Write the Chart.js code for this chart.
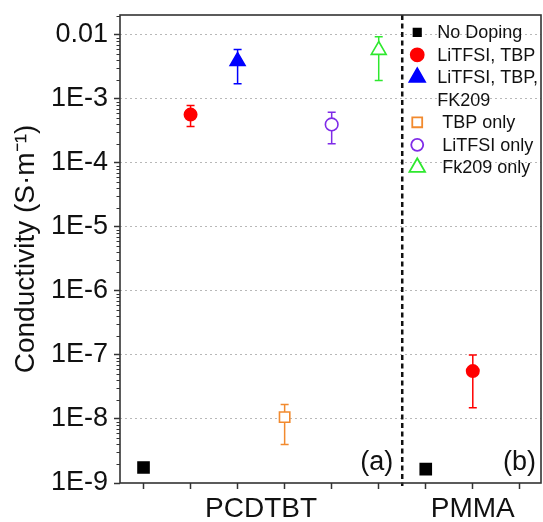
<!DOCTYPE html>
<html><head><meta charset="utf-8">
<script src="https://cdn.jsdelivr.net/npm/chart.js@4/dist/chart.umd.min.js"></script>
<style>html,body{margin:0;padding:0;background:#fff}#wrap{width:543px;height:522px}</style>
</head><body><div id="wrap"><canvas id="c" width="543" height="522"></canvas></div>
<script>
// ---- data ----
const categories = ['PCDTBT', 'PMMA'];
const categoryPositions = [2.5, 7];
const xTickPositions = [0, 1, 2, 3, 4, 5, 6, 7, 8];
const separatorPosition = 5.5;
const yTickValues = [1e-9, 1e-8, 1e-7, 1e-6, 1e-5, 1e-4, 1e-3, 1e-2];
const yTickLabels = ['1E-9', '1E-8', '1E-7', '1E-6', '1E-5', '1E-4', '1E-3', '0.01'];
const panelLabels = ['(a)', '(b)'];
const seriesNames = ['No Doping', 'LiTFSI, TBP', 'LiTFSI, TBP,\nFK209', ' TBP only', ' LiTFSI only', ' Fk209 only'];

const noDopingX = [0, 6];
const noDopingY = [1.75e-9, 1.65e-9];

const litfsiTbpX = [1, 7];
const litfsiTbpY = [5.7e-4, 5.6e-8];
const litfsiTbpLow = [3.7e-4, 1.5e-8];
const litfsiTbpHigh = [7.9e-4, 1.0e-7];

const litfsiTbpFkX = [2];
const litfsiTbpFkY = [3.9e-3];
const litfsiTbpFkLow = [1.73e-3];
const litfsiTbpFkHigh = [5.9e-3];

const tbpOnlyX = [3];
const tbpOnlyY = [1.07e-8];
const tbpOnlyLow = [4.0e-9];
const tbpOnlyHigh = [1.68e-8];

const litfsiOnlyX = [4];
const litfsiOnlyY = [4.0e-4];
const litfsiOnlyLow = [2.0e-4];
const litfsiOnlyHigh = [6.2e-4];

const fkOnlyX = [5];
const fkOnlyY = [5.8e-3];
const fkOnlyLow = [1.95e-3];
const fkOnlyHigh = [9.4e-3];

// ---- build ----
const pts = (xs, ys) => xs.map((x, i) => ({x: x, y: ys[i]}));
const FONT = '"Liberation Sans", Arial, sans-serif';

function mk(label, xs, ys, lo, hi, style, radius, color, fill, legendRadius) {
  return {
    label, data: pts(xs, ys), errLow: lo, errHigh: hi,
    pointStyle: style, pointRadius: radius, pointHoverRadius: radius,
    borderColor: color, backgroundColor: fill, pointBorderWidth: 1.6,
    borderWidth: 1.6, showLine: false, legendRadius: legendRadius || radius
  };
}

const datasets = [
  mk(seriesNames[0], noDopingX, noDopingY, null, null, 'rect', 7.8, '#000000', '#000000', 5.2),
  mk(seriesNames[1], litfsiTbpX, litfsiTbpY, litfsiTbpLow, litfsiTbpHigh, 'circle', 6.2, '#ff0000', '#ff0000', 6.5),
  mk(seriesNames[2], litfsiTbpFkX, litfsiTbpFkY, litfsiTbpFkLow, litfsiTbpFkHigh, 'triangle', 8.6, '#0000ff', '#0000ff', 9),
  mk(seriesNames[3], tbpOnlyX, tbpOnlyY, tbpOnlyLow, tbpOnlyHigh, 'rect', 7.3, '#f28a2e', '#ffffff', 7),
  mk(seriesNames[4], litfsiOnlyX, litfsiOnlyY, litfsiOnlyLow, litfsiOnlyHigh, 'circle', 6.3, '#7f2be8', '#ffffff', 6),
  mk(seriesNames[5], fkOnlyX, fkOnlyY, fkOnlyLow, fkOnlyHigh, 'triangle', 8.6, '#2ee82e', '#ffffff', 9)
];

function marker(ctx, style, r, x, y, stroke, fill, lw) {
  ctx.save();
  ctx.lineWidth = lw; ctx.strokeStyle = stroke; ctx.fillStyle = fill;
  ctx.beginPath();
  if (style === 'rect') {
    const s = Math.SQRT1_2 * r;
    ctx.rect(x - s, y - s, 2 * s, 2 * s);
  } else if (style === 'circle') {
    ctx.arc(x, y, r, 0, Math.PI * 2);
  } else {
    for (let k = 0; k < 3; k++) {
      const a = k * 2 * Math.PI / 3;
      const px = x + Math.sin(a) * r, py = y - Math.cos(a) * r;
      if (k === 0) ctx.moveTo(px, py); else ctx.lineTo(px, py);
    }
    ctx.closePath();
  }
  ctx.fill(); ctx.stroke();
  ctx.restore();
}

const zeroPad = s => { s.paddingLeft = 0; s.paddingRight = 0; s.paddingTop = 0; s.paddingBottom = 0; };

const decor = {
  id: 'decor',
  beforeDatasetsDraw(chart) {
    const {ctx, chartArea: a, scales: {x, y}} = chart;
    ctx.save();
    ctx.strokeStyle = '#333'; ctx.lineWidth = 1;
    for (let n = -9; n <= -2; n++) {
      for (let k = 2; k <= 9; k++) {
        const v = k * Math.pow(10, n);
        if (v > y.max) continue;
        const py = Math.round(y.getPixelForValue(v)) + 0.5;
        ctx.beginPath(); ctx.moveTo(a.left - 3.5, py); ctx.lineTo(a.left, py); ctx.stroke();
      }
    }
    const sx = x.getPixelForValue(separatorPosition);
    ctx.setLineDash([5, 3.5]); ctx.lineWidth = 2.5; ctx.strokeStyle = '#111';
    ctx.beginPath(); ctx.moveTo(sx, a.top); ctx.lineTo(sx, a.bottom + 3); ctx.stroke();
    ctx.setLineDash([]);
    chart.data.datasets.forEach(ds => {
      if (!ds.errLow) return;
      ctx.strokeStyle = ds.borderColor; ctx.lineWidth = 1.5;
      ds.data.forEach((p, i) => {
        const px = x.getPixelForValue(p.x);
        const lo = y.getPixelForValue(ds.errLow[i]);
        const hi = y.getPixelForValue(ds.errHigh[i]);
        ctx.beginPath();
        ctx.moveTo(px, lo); ctx.lineTo(px, hi);
        ctx.moveTo(px - 4, lo); ctx.lineTo(px + 4, lo);
        ctx.moveTo(px - 4, hi); ctx.lineTo(px + 4, hi);
        ctx.stroke();
      });
    });
    ctx.restore();
  },
  afterDatasetsDraw(chart) {
    const {ctx, chartArea: a, scales: {x}} = chart;
    ctx.save();
    ctx.strokeStyle = '#333'; ctx.lineWidth = 1.6;
    ctx.strokeRect(a.left, a.top, a.right - a.left, a.bottom - a.top);
    const sx = x.getPixelForValue(separatorPosition);
    ctx.fillStyle = '#111';
    ctx.font = '27px ' + FONT;
    ctx.textAlign = 'right'; ctx.textBaseline = 'middle';
    ctx.fillText(panelLabels[0], sx - 9, a.bottom - 20);
    ctx.fillText(panelLabels[1], a.right - 5, a.bottom - 20);
    ctx.font = '18px ' + FONT;
    ctx.textAlign = 'left';
    let row = 0;
    const lh = 22.5, y0 = a.top + 17.3, mx = sx + 15, tx = sx + 35;
    chart.data.datasets.forEach(ds => {
      const yy = y0 + row * lh;
      marker(ctx, ds.pointStyle, ds.legendRadius, mx, yy, ds.borderColor, ds.backgroundColor, 1.8);
      const lines = ds.label.split('\n');
      lines.forEach((t, j) => {
        ctx.fillStyle = '#111';
        ctx.fillText(t, tx, y0 + (row + j) * lh + 1);
      });
      row += lines.length;
    });
    ctx.restore();
  }
};

new Chart(document.getElementById('c'), {
  type: 'scatter',
  data: {datasets},
  options: {
    responsive: false, animation: false,
    layout: {autoPadding: false, padding: {top: 15, right: 2, left: 0, bottom: 0}},
    plugins: {legend: {display: false}, tooltip: {enabled: false}},
    scales: {
      x: {
        type: 'linear', min: -0.5, max: 8.45,
        afterBuildTicks: s => { s.ticks = xTickPositions.concat([categoryPositions[0]]).sort((a, b) => a - b).map(v => ({value: v})); },
        afterFit: s => { s.height = 39; zeroPad(s); },
        ticks: {
          autoSkip: false, maxRotation: 0, padding: 3,
          color: '#111', font: {family: FONT, size: 28},
          callback: v => { const k = categoryPositions.indexOf(v); return k >= 0 ? categories[k] : ''; }
        },
        grid: {
          drawOnChartArea: false, drawTicks: true, tickLength: 6, tickWidth: 1.5,
          tickColor: c => (c.tick && !Number.isInteger(c.tick.value)) ? 'rgba(0,0,0,0)' : '#333'
        },
        border: {display: false}
      },
      y: {
        type: 'logarithmic', min: 1e-9, max: 0.0205,
        afterBuildTicks: s => { s.ticks = yTickValues.map(v => ({value: v, major: true})); },
        afterFit: s => { s.width = 120; zeroPad(s); },
        ticks: {
          autoSkip: false, padding: 6, color: '#111',
          font: {family: FONT, size: 27},
          callback: (v, i) => yTickLabels[i]
        },
        grid: {
          color: c => c.index === 0 ? 'rgba(0,0,0,0)' : '#b8b8b8', lineWidth: 1,
          drawTicks: true, tickLength: 6, tickWidth: 1.5, tickColor: '#333', tickBorderDash: []
        },
        border: {display: false, dash: [2, 3]},
        title: {
          display: true, text: 'Conductivity (S·m⁻¹)', color: '#111',
          font: {family: FONT, size: 28}, padding: {top: 9, bottom: 0}
        }
      }
    }
  },
  plugins: [decor]
});
</script>
</body></html>
